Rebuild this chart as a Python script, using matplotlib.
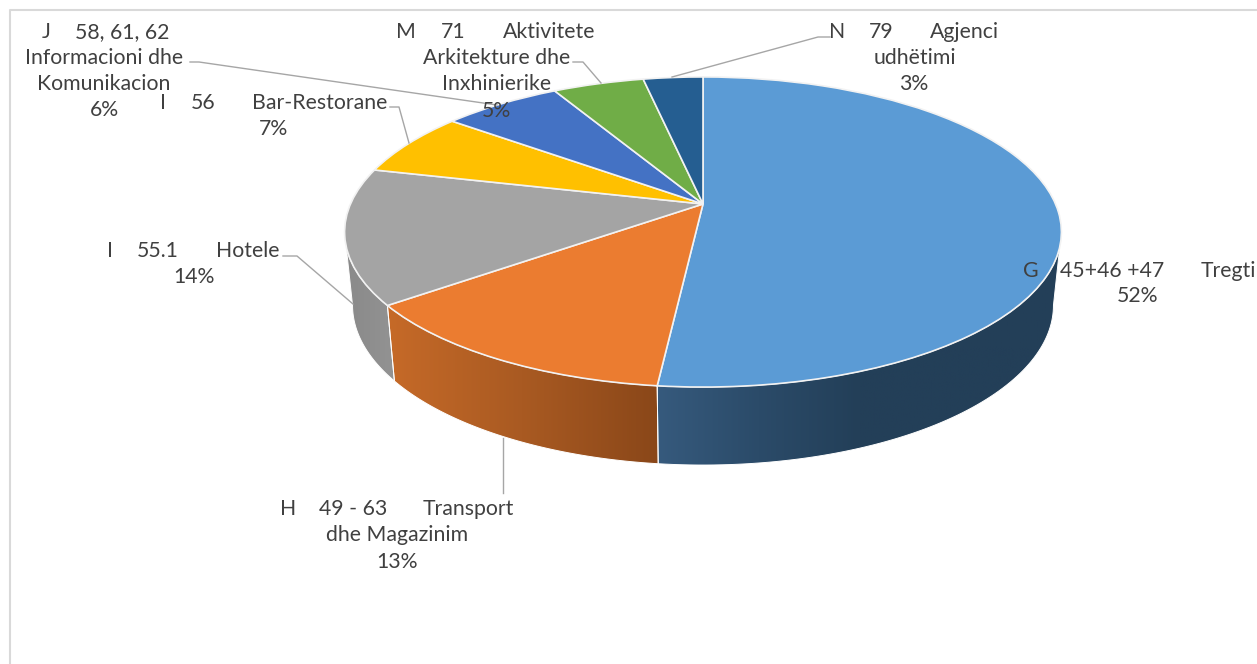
import matplotlib
matplotlib.use('Agg')
import matplotlib.pyplot as plt
import numpy as np
from matplotlib.colors import LinearSegmentedColormap
from matplotlib.patches import Polygon
from matplotlib.transforms import Transform

# share of each sector, percent (labels show them rounded)
shares = [51.7, 13.0, 14.1, 6.7, 6.4, 4.9, 3.2]
colors = ['#5b9bd5', '#eb7c30', '#a4a4a4', '#ffc000', '#4472c4', '#70ad47', '#255e91']

plt.rcParams['font.family'] = ['Lato', 'DejaVu Sans']

W, H = 1257, 664
CX, CY = 703, 204
TILT = 0.1806
TEXT = '#404040'
LEADER = '#a6a6a6'


class TiltedPie(Transform):
    """Unit circle to the tilted top face of the pie, in picture pixels."""
    input_dims = 2
    output_dims = 2

    def transform_non_affine(self, values):
        values = np.asarray(values, dtype=float)
        x, y = values[:, 0], values[:, 1]
        w = 1 + TILT * y
        return np.column_stack([CX + 352.5 * x / w, CY - 150 * y / w])


def rim(angles, top=True):
    x = np.sin(np.radians(angles))
    y = np.cos(np.radians(angles))
    w = 1 + TILT * y
    if top:
        return np.column_stack([CX + 352.5 * x / w, CY - 150 * y / w])
    return np.column_stack([CX + 344.7 * x / w, 276.5 - 154.5 * y / w])


def side_wall(ax, start, stop, ramp):
    """Outer wall between two angles, shaded from left to right."""
    angles = np.linspace(start, stop, 80)
    outline = np.vstack([rim(angles), rim(angles[::-1], top=False)])
    left, right = outline[:, 0].min(), outline[:, 0].max()
    shape = Polygon(outline, closed=True, fc='none', ec='white', lw=0.7, zorder=2)
    ax.add_patch(shape)
    cmap = LinearSegmentedColormap.from_list('wall', ramp)
    img = ax.imshow(np.linspace(0, 1, 256)[None, :], cmap=cmap, aspect='auto',
                    extent=(left, right, outline[:, 1].max(), outline[:, 1].min()),
                    zorder=1)
    img.set_clip_path(shape)


fig = plt.figure(figsize=(W / 100, H / 100), dpi=100)
ax = fig.add_axes([0, 0, 1, 1])

# walls are only seen on the near half of the rim
edges = np.cumsum([0] + shares) * 3.6
side_wall(ax, 100.4, edges[1], ['#365a7d', '#2b4b69', '#233f58', '#233f58', '#233f58'])
side_wall(ax, edges[1], edges[2], ['#c66a28', '#a95a22', '#8a4719'])
side_wall(ax, edges[2], 259.6, ['#8a8a8a', '#8e8e8e', '#939393'])

wedges, _ = ax.pie(shares, colors=colors, startangle=90, counterclock=False,
                   wedgeprops=dict(edgecolor='#f2f2f2', linewidth=1.2))
ax.set_aspect('auto')
ax.set_xlim(0, W)
ax.set_ylim(H, 0)
ax.axis('off')

tilted = TiltedPie() + ax.transData
for wedge in wedges:
    wedge.set_transform(tilted)
    wedge.set_zorder(3)

# chart frame, cut by the picture on the right and at the bottom
ax.plot([10, 10, W], [H, 10, 10], color='#d9d9d9', lw=1.5, zorder=0)

# leader lines
leaders = [
    ([190, 199, 497], [62, 62, 105]),
    ([390, 399, 409], [107, 107, 143]),
    ([573, 583, 601], [62, 62, 83]),
    ([830, 818, 672], [37, 37, 77]),
    ([283, 297, 353], [256, 256, 304]),
    ([503, 503], [438, 493]),
]
for xs, ys in leaders:
    ax.plot(xs, ys, color=LEADER, lw=1, zorder=4)

pct = [f'{round(v)}%' for v in shares]

# label pieces; the original uses tabs between code, class and name
labels = [
    ('G', 1031, 271), ('45+46 +47', 1112, 271), ('Tregti', 1228, 271),
    (pct[0], 1138, 296),
    ('H', 288, 509), ('49 - 63', 353, 509), ('Transport', 468, 509),
    ('dhe Magazinim', 397, 535), (pct[1], 397, 562),
    ('I', 110, 251), ('55.1', 158, 251), ('Hotele', 248, 251),
    (pct[2], 194, 277),
    ('I', 163, 103), ('56', 203, 103), ('Bar-Restorane', 320, 103),
    (pct[3], 274, 129),
    ('J', 46, 32), ('58, 61, 62', 122, 32),
    ('Informacioni dhe', 104, 58), ('Komunikacion', 104, 84),
    (pct[4], 104, 110),
    ('M', 406, 32), ('71', 453, 32), ('Aktivitete', 549, 32),
    ('Arkitekture dhe', 497, 58), ('Inxhinierike', 497, 84),
    (pct[5], 496, 111),
    ('N', 837, 32), ('79', 881, 32), ('Agjenci', 964, 32),
    ('udhëtimi', 915, 58), (pct[6], 914, 84),
]
for text, x, y in labels:
    ax.text(x, y, text, color=TEXT, fontsize=15.3, ha='center', va='center', zorder=5)

fig.savefig('out.png', dpi=100, facecolor='white')
